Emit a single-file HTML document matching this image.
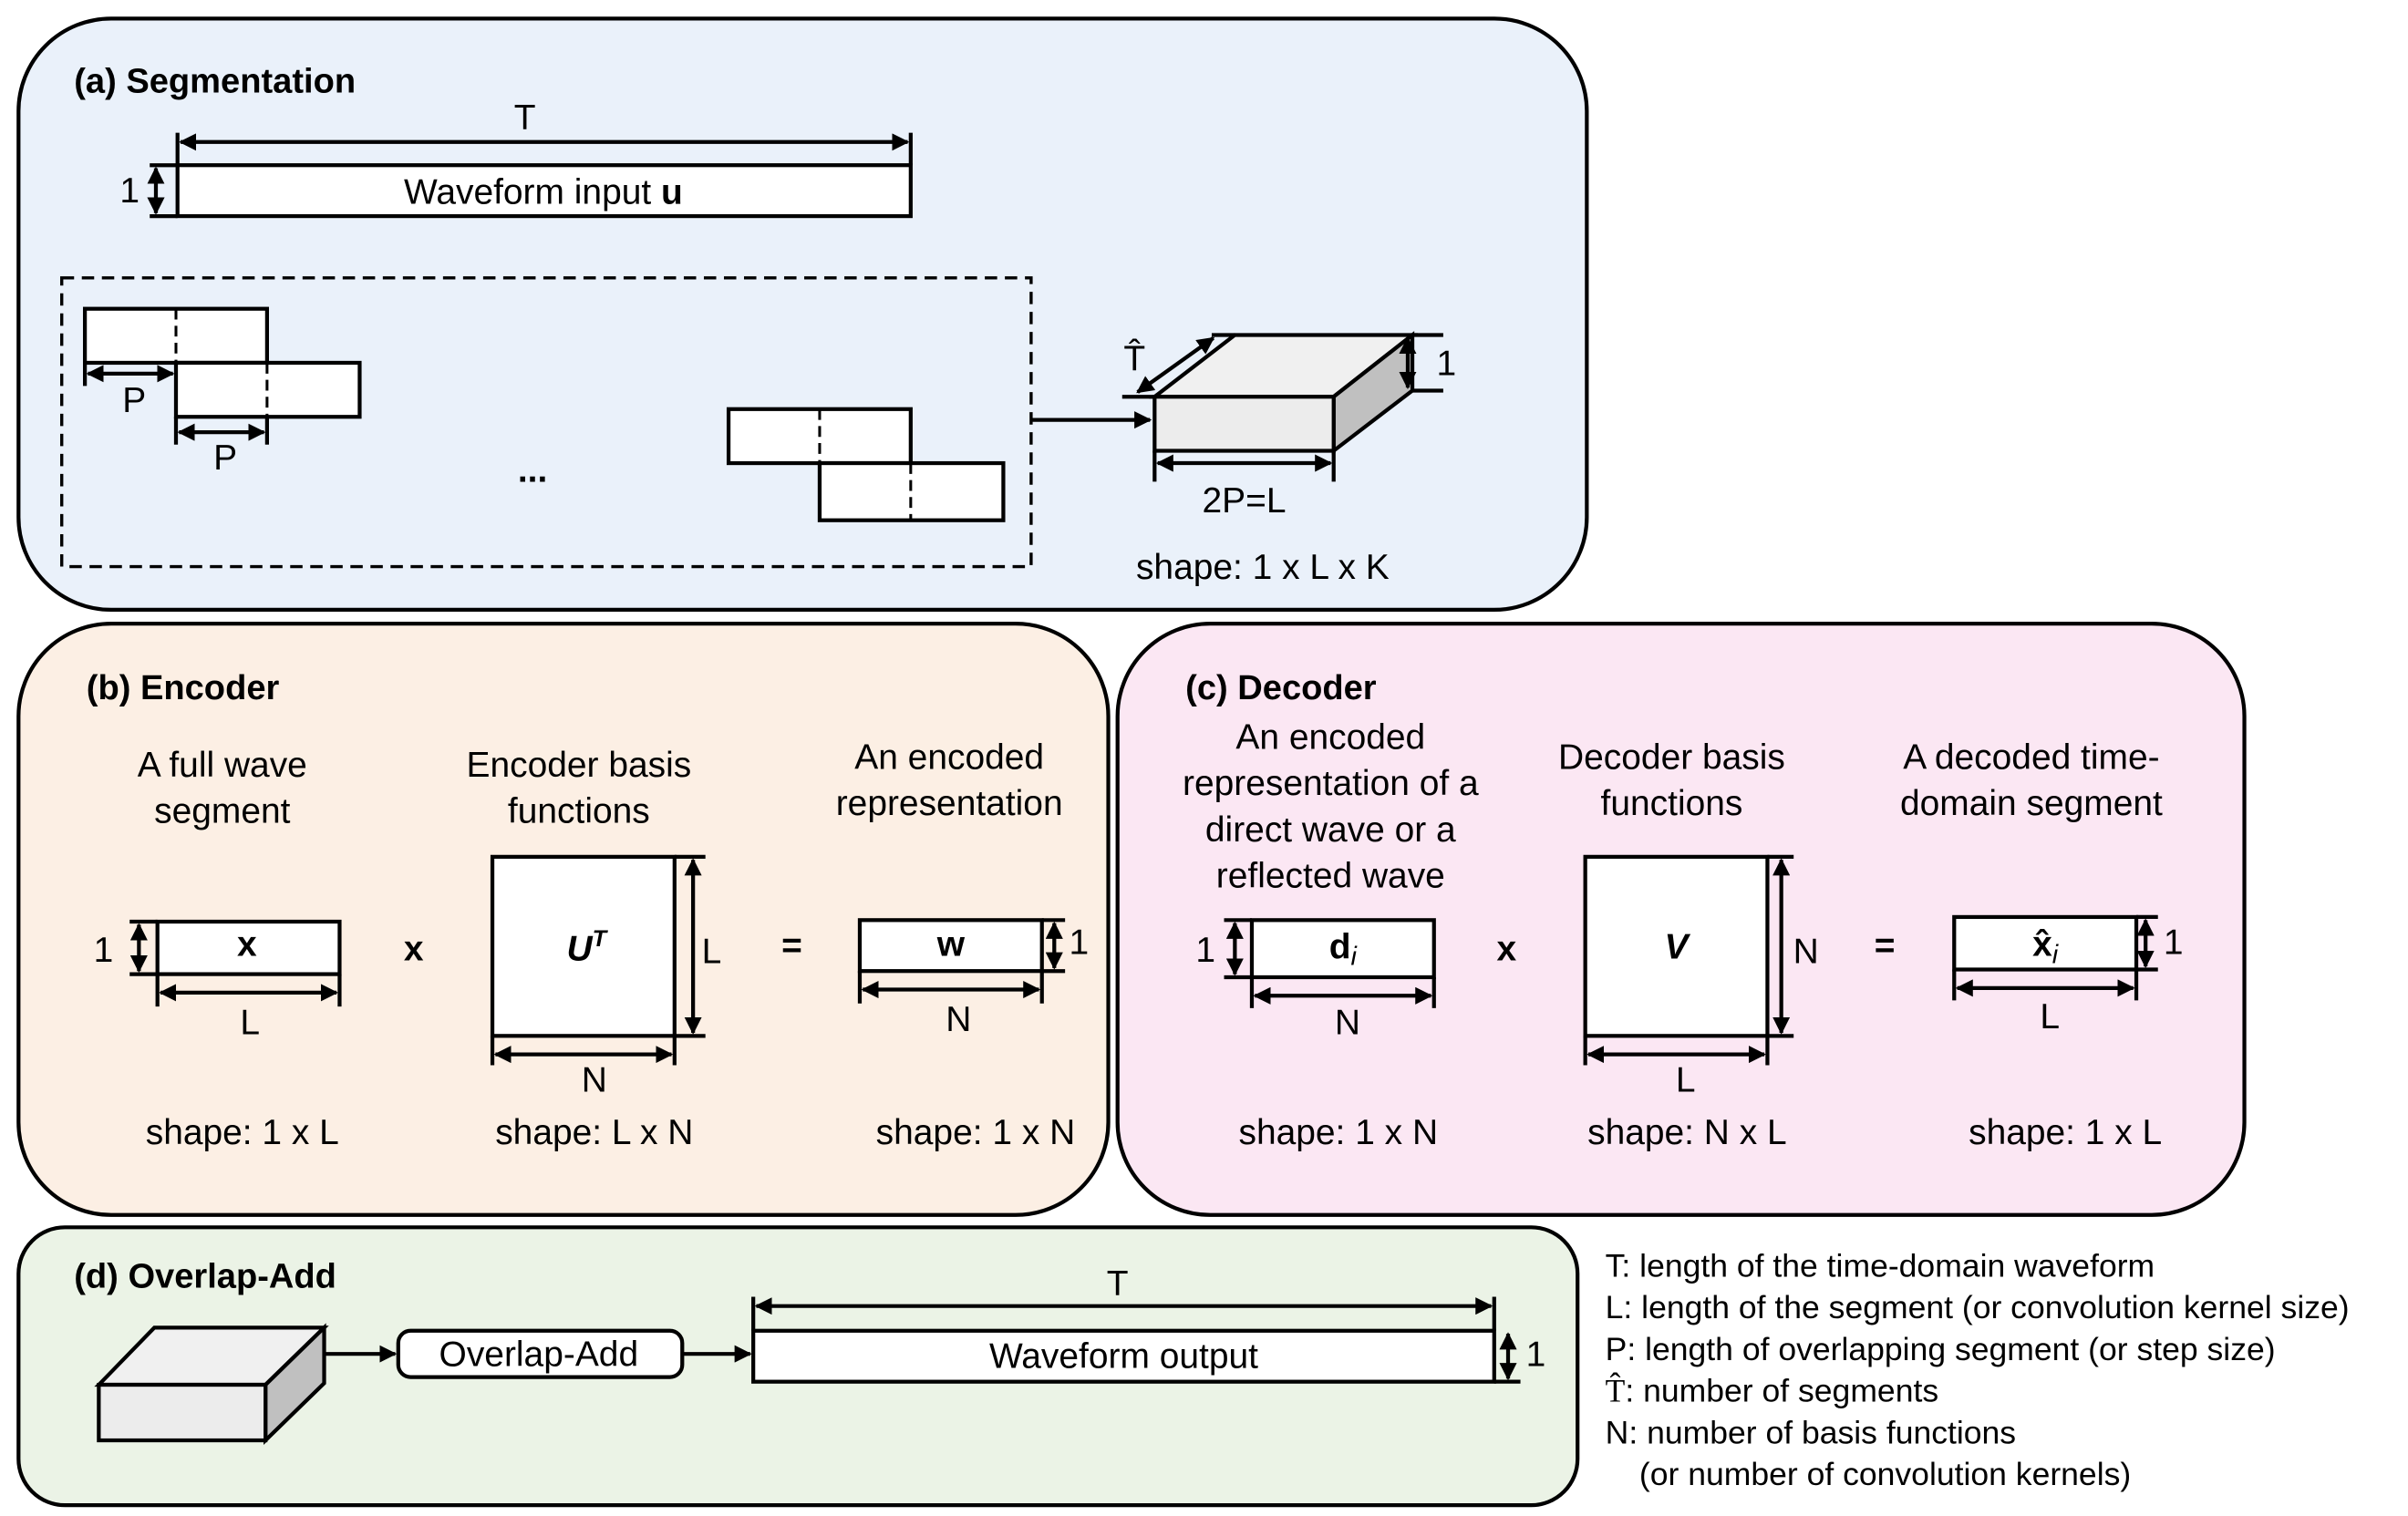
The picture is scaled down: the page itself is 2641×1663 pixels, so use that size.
<!DOCTYPE html>
<html><head><meta charset="utf-8"><style>
html,body{margin:0;padding:0;background:#fff}
svg{display:block}
text{font-family:"Liberation Sans",sans-serif;fill:#000}
</style></head><body>
<svg width="2641" height="1663" viewBox="0 0 1560 982" preserveAspectRatio="none" xmlns="http://www.w3.org/2000/svg">
<defs>
<marker id="a" viewBox="0 0 10 10" refX="9" refY="5" markerWidth="4.5" markerHeight="4.5" orient="auto-start-reverse"><path d="M0,0L10,5L0,10z" fill="#000"/></marker>
</defs>
<g stroke="#000" stroke-width="2.5">
<rect x="12" y="12" width="1016" height="383" rx="60" fill="#eaf1fa"/>
<rect x="12" y="404" width="706" height="383" rx="60" fill="#fcefe4"/>
<rect x="724" y="404" width="730" height="383" rx="60" fill="#fbe7f3"/>
<rect x="12" y="795" width="1010" height="180" rx="30" fill="#ebf3e6"/>
</g>
<g font-size="22.5">
<text x="48" y="60" font-weight="bold">(a) Segmentation</text>
<text x="56" y="453" font-weight="bold">(b) Encoder</text>
<text x="768" y="453" font-weight="bold">(c) Decoder</text>
<text x="48" y="834" font-weight="bold">(d) Overlap-Add</text>
</g>
<g stroke="#000" stroke-width="2.5" fill="none">
<line x1="115" y1="86" x2="115" y2="107"/><line x1="590" y1="86" x2="590" y2="107"/>
<line x1="117" y1="92" x2="588" y2="92" marker-start="url(#a)" marker-end="url(#a)"/>
<rect x="115" y="107" width="475" height="33" fill="#fff"/>
<line x1="97" y1="107" x2="115" y2="107"/><line x1="97" y1="140" x2="115" y2="140"/>
<line x1="101" y1="109" x2="101" y2="138" marker-start="url(#a)" marker-end="url(#a)"/>
<rect x="40" y="180" width="628" height="187" stroke-dasharray="8,5" stroke-width="2"/>
<rect x="55" y="200" width="118" height="35" fill="#fff"/>
<rect x="114" y="235" width="119" height="35" fill="#fff"/>
<line x1="114" y1="200" x2="114" y2="235" stroke-dasharray="7,4" stroke-width="1.8"/>
<line x1="173" y1="235" x2="173" y2="270" stroke-dasharray="7,4" stroke-width="1.8"/>
<line x1="55" y1="235" x2="55" y2="250"/>
<line x1="57" y1="242" x2="112" y2="242" marker-start="url(#a)" marker-end="url(#a)"/>
<line x1="114" y1="270" x2="114" y2="288"/><line x1="173" y1="270" x2="173" y2="288"/>
<line x1="116" y1="280" x2="171" y2="280" marker-start="url(#a)" marker-end="url(#a)"/>
<rect x="472" y="265" width="118" height="35" fill="#fff"/>
<rect x="531" y="300" width="119" height="37" fill="#fff"/>
<line x1="531" y1="265" x2="531" y2="300" stroke-dasharray="7,4" stroke-width="1.8"/>
<line x1="590" y1="300" x2="590" y2="337" stroke-dasharray="7,4" stroke-width="1.8"/>
<line x1="668" y1="272" x2="745" y2="272" marker-end="url(#a)"/>
<polygon points="748,257 800,217 915,217 864,257" fill="#f0f0f0"/>
<polygon points="864,257 915,217 915,253 864,292" fill="#c0c0c0"/>
<rect x="748" y="257" width="116" height="35" fill="#ececec"/>
<line x1="727" y1="257" x2="748" y2="257"/><line x1="800" y1="217" x2="785" y2="217"/>
<line x1="737" y1="254" x2="786" y2="219" marker-start="url(#a)" marker-end="url(#a)"/>
<line x1="915" y1="217" x2="935" y2="217"/><line x1="915" y1="253" x2="935" y2="253"/>
<line x1="912" y1="219" x2="912" y2="251" marker-start="url(#a)" marker-end="url(#a)"/>
<line x1="748" y1="292" x2="748" y2="312"/><line x1="864" y1="292" x2="864" y2="312"/>
<line x1="750" y1="300" x2="862" y2="300" marker-start="url(#a)" marker-end="url(#a)"/>
<rect x="102" y="597" width="118" height="34" fill="#fff"/>
<line x1="84" y1="597" x2="102" y2="597"/><line x1="84" y1="631" x2="102" y2="631"/>
<line x1="90" y1="599" x2="90" y2="629" marker-start="url(#a)" marker-end="url(#a)"/>
<line x1="102" y1="631" x2="102" y2="652"/><line x1="220" y1="631" x2="220" y2="652"/>
<line x1="104" y1="643" x2="218" y2="643" marker-start="url(#a)" marker-end="url(#a)"/>
<rect x="319" y="555" width="118" height="116" fill="#fff"/>
<line x1="437" y1="555" x2="457" y2="555"/><line x1="437" y1="671" x2="457" y2="671"/>
<line x1="449" y1="557" x2="449" y2="669" marker-start="url(#a)" marker-end="url(#a)"/>
<line x1="319" y1="671" x2="319" y2="690"/><line x1="437" y1="671" x2="437" y2="690"/>
<line x1="321" y1="683" x2="435" y2="683" marker-start="url(#a)" marker-end="url(#a)"/>
<rect x="557" y="596" width="118" height="33" fill="#fff"/>
<line x1="675" y1="596" x2="690" y2="596"/><line x1="675" y1="629" x2="690" y2="629"/>
<line x1="683" y1="598" x2="683" y2="627" marker-start="url(#a)" marker-end="url(#a)"/>
<line x1="557" y1="629" x2="557" y2="650"/><line x1="675" y1="629" x2="675" y2="650"/>
<line x1="559" y1="641" x2="673" y2="641" marker-start="url(#a)" marker-end="url(#a)"/>
<rect x="811" y="596" width="118" height="37" fill="#fff"/>
<line x1="793" y1="596" x2="811" y2="596"/><line x1="793" y1="633" x2="811" y2="633"/>
<line x1="800" y1="598" x2="800" y2="631" marker-start="url(#a)" marker-end="url(#a)"/>
<line x1="811" y1="633" x2="811" y2="653"/><line x1="929" y1="633" x2="929" y2="653"/>
<line x1="813" y1="645" x2="927" y2="645" marker-start="url(#a)" marker-end="url(#a)"/>
<rect x="1027" y="555" width="118" height="116" fill="#fff"/>
<line x1="1145" y1="555" x2="1162" y2="555"/><line x1="1145" y1="671" x2="1162" y2="671"/>
<line x1="1154" y1="557" x2="1154" y2="669" marker-start="url(#a)" marker-end="url(#a)"/>
<line x1="1027" y1="671" x2="1027" y2="690"/><line x1="1145" y1="671" x2="1145" y2="690"/>
<line x1="1029" y1="683" x2="1143" y2="683" marker-start="url(#a)" marker-end="url(#a)"/>
<rect x="1266" y="594" width="118" height="34" fill="#fff"/>
<line x1="1384" y1="594" x2="1398" y2="594"/><line x1="1384" y1="628" x2="1398" y2="628"/>
<line x1="1390" y1="596" x2="1390" y2="626" marker-start="url(#a)" marker-end="url(#a)"/>
<line x1="1266" y1="628" x2="1266" y2="648"/><line x1="1384" y1="628" x2="1384" y2="648"/>
<line x1="1268" y1="640" x2="1382" y2="640" marker-start="url(#a)" marker-end="url(#a)"/>
<polygon points="64,897 100,860 210,860 172,897" fill="#f0f0f0"/>
<polygon points="172,897 210,860 210,896 172,933" fill="#c0c0c0"/>
<rect x="64" y="897" width="108" height="36" fill="#ececec"/>
<line x1="210" y1="877" x2="256" y2="877" marker-end="url(#a)"/>
<rect x="258" y="862" width="184" height="30" rx="8" fill="#fff"/>
<line x1="442" y1="877" x2="486" y2="877" marker-end="url(#a)"/>
<rect x="488" y="862" width="480" height="33" fill="#fff"/>
<line x1="488" y1="840" x2="488" y2="862"/><line x1="968" y1="840" x2="968" y2="862"/>
<line x1="490" y1="846" x2="966" y2="846" marker-start="url(#a)" marker-end="url(#a)"/>
<line x1="968" y1="895" x2="985" y2="895"/>
<line x1="977" y1="864" x2="977" y2="893" marker-start="url(#a)" marker-end="url(#a)"/>
</g>
<g font-size="23" text-anchor="middle">
<text x="340" y="84">T</text>
<text x="84" y="131">1</text>
<text x="352" y="132">Waveform input  <tspan font-weight="bold">u</tspan></text>
<text x="87" y="267">P</text>
<text x="146" y="304">P</text>
<text x="345" y="312" font-weight="bold">...</text>
<text x="735" y="240" font-family="Liberation Serif,serif">T̂</text>
<text x="937" y="243">1</text>
<text x="806" y="332">2P=L</text>
<text x="818" y="375">shape: 1 x L x K</text>
<text x="144" y="503">A full wave</text><text x="144" y="533">segment</text>
<text x="375" y="503">Encoder basis</text><text x="375" y="533">functions</text>
<text x="615" y="498">An encoded</text><text x="615" y="528">representation</text>
<text x="67" y="623">1</text>
<text x="160" y="619" font-family="Liberation Serif,serif" font-weight="bold">x</text>
<text x="162" y="670">L</text>
<text x="268" y="622" font-weight="bold">x</text>
<text x="380" y="622" font-family="Liberation Serif,serif" font-weight="bold" font-style="italic">U<tspan font-size="15" dy="-9">T</tspan></text>
<text x="461" y="624">L</text>
<text x="385" y="707">N</text>
<text x="513" y="620" font-weight="bold">=</text>
<text x="616" y="619" font-family="Liberation Serif,serif" font-weight="bold">w</text>
<text x="699" y="618">1</text>
<text x="621" y="668">N</text>
<text x="157" y="741">shape: 1 x L</text>
<text x="385" y="741">shape: L x N</text>
<text x="632" y="741">shape: 1 x N</text>
<text x="862" y="485">An encoded</text><text x="862" y="515">representation of a</text>
<text x="862" y="545">direct wave or a</text><text x="862" y="575">reflected wave</text>
<text x="1083" y="498">Decoder basis</text><text x="1083" y="528">functions</text>
<text x="1316" y="498">A decoded time-</text><text x="1316" y="528">domain segment</text>
<text x="781" y="623">1</text>
<text x="870" y="621" font-family="Liberation Serif,serif" font-weight="bold">d<tspan font-weight="normal" font-style="italic" font-size="17" dy="4">i</tspan></text>
<text x="873" y="670">N</text>
<text x="976" y="622" font-weight="bold">x</text>
<text x="1086" y="621" font-family="Liberation Serif,serif" font-weight="bold" font-style="italic">V</text>
<text x="1170" y="624">N</text>
<text x="1092" y="707">L</text>
<text x="1221" y="620" font-weight="bold">=</text>
<text x="1325" y="619" font-family="Liberation Serif,serif" font-weight="bold">x̂<tspan font-weight="normal" font-style="italic" font-size="17" dy="5">i</tspan></text>
<text x="1408" y="618">1</text>
<text x="1328" y="666">L</text>
<text x="867" y="741">shape: 1 x N</text>
<text x="1093" y="741">shape: N x L</text>
<text x="1338" y="741">shape: 1 x L</text>
<text x="724" y="839">T</text>
<text x="349" y="885">Overlap-Add</text>
<text x="728" y="886">Waveform output</text>
<text x="995" y="885">1</text>
</g>
<g font-size="21">
<text x="1040" y="827">T: length of the time-domain waveform</text>
<text x="1040" y="854">L: length of the segment (or convolution kernel size)</text>
<text x="1040" y="881">P: length of overlapping segment (or step size)</text>
<text x="1040" y="908"><tspan font-family="Liberation Serif,serif">T̂</tspan>: number of segments</text>
<text x="1040" y="935">N: number of basis functions</text>
<text x="1062" y="962">(or number of convolution kernels)</text>
</g>
</svg>
</body></html>
